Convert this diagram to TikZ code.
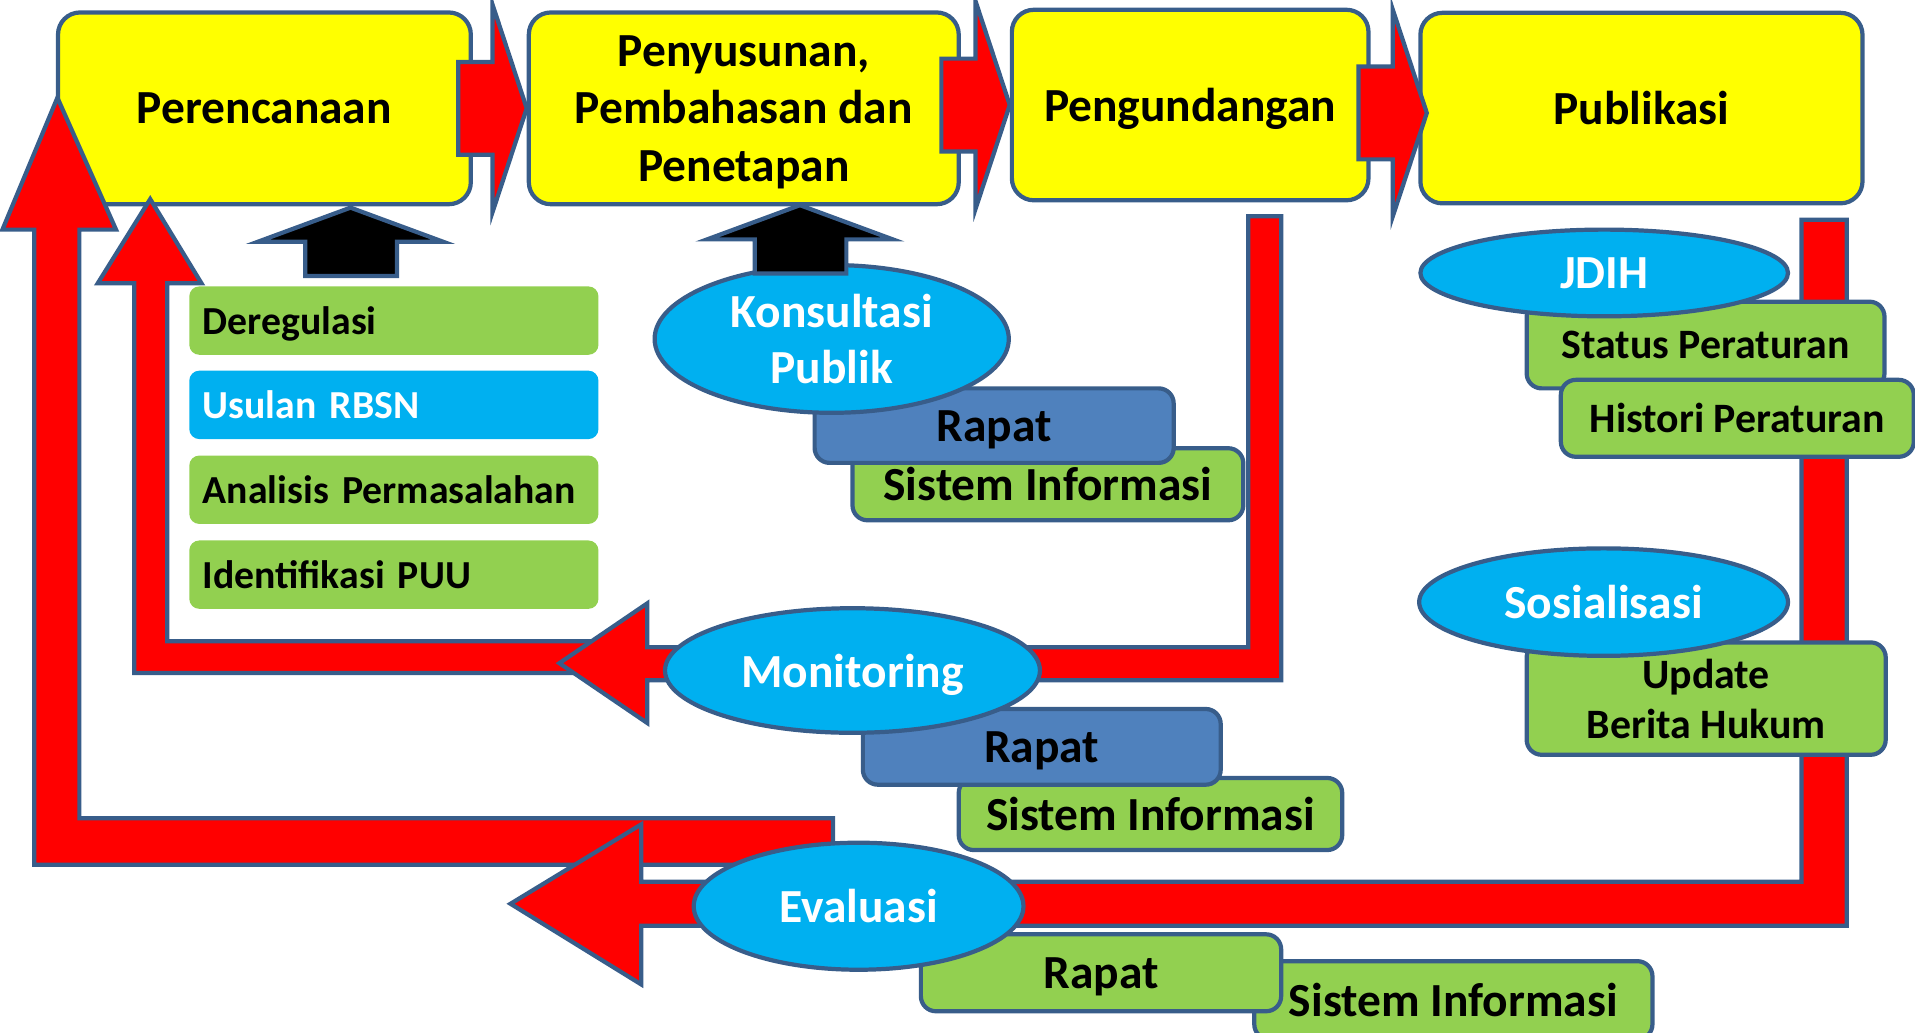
\documentclass[tikz,border=0pt]{standalone}
\usepackage{fontspec}
\setmainfont{Carlito}
\usetikzlibrary{shapes.geometric,calc}

\definecolor{edge}{HTML}{385D8A}
\definecolor{stagefill}{HTML}{FFFF00}
\definecolor{flowred}{HTML}{FF0000}
\definecolor{sky}{HTML}{00B0F0}
\definecolor{leaf}{HTML}{92D050}
\definecolor{steel}{HTML}{4F81BD}

\newcommand\pxu{0.012213cm}

\tikzset{
	sz/.style 2 args={minimum width=#1*\pxu, minimum height=#2*\pxu},
	stage/.style={draw=edge, line width=1.2pt, fill=stagefill, rounded corners=0.22cm, inner sep=0pt, text depth=0pt, align=center, font=\fontsize{13.5}{16.3}\selectfont\bfseries},
	bubble/.style={ellipse, draw=edge, line width=1.2pt, fill=sky, text=white, inner sep=0pt, text depth=0pt, align=center, font=\fontsize{13.5}{16}\selectfont\bfseries},
	tag/.style={draw=edge, line width=1.2pt, fill=leaf, rounded corners=0.15cm, inner sep=0pt, text depth=0pt, align=center, font=\fontsize{13.5}{16}\selectfont\bfseries},
	smalltag/.style={tag, font=\fontsize{11.9}{14.2}\selectfont\bfseries},
	item/.style={fill=leaf, rounded corners=0.1cm, inner xsep=0.134cm, text width=3.82cm, text depth=0pt, align=left, font=\fontsize{11.3}{13.5}\selectfont\bfseries},
	flow/.style={draw=edge, line width=1.2pt, fill=flowred},
	fwd/.pic={\filldraw[flow] (0,0) -- (-28,-85) -- (-28,-38) -- (-56,-38) -- (-56,38) -- (-28,38) -- (-28,85) -- cycle;},
	lift/.pic={\filldraw[draw=edge, line width=1.2pt, fill=black] (0,0) -- (76,28) -- (38,28) -- (38,56) -- (-37,56) -- (-37,28) -- (-76,28) -- cycle;},
}

\begin{document}
\begin{tikzpicture}[x=\pxu, y=-\pxu]
	\useasboundingbox (0,0) rectangle (1568,845);

	\node[stage, sz={338}{157}] (plan) at (216.5,88.7) {Perencanaan};
	\node[stage, sz={352}{157}] (draft) at (609,88.7) {Penyusunan,\\Pembahasan dan\\Penetapan};
	\node[stage, sz={292}{156}] (promul) at (974.5,86) {Pengundangan};
	\node[stage, sz={362}{156}] (pub) at (1344,88.5) {Publikasi};

	\pic at (draft.west) {fwd};
	\pic at (promul.west) {fwd};
	\pic at ($(pub.west)+(7,4)$) {fwd};

	\filldraw[flow] (682,670) -- (65,670) -- (65,188) -- (95,188) -- (47,80) -- (2,188) -- (28,188) -- (28,708) -- (682,708) -- cycle;
	\filldraw[flow] (1475,180) -- (1512,180) -- (1512,758) -- (525,758) -- (525,806) -- (418,740) -- (525,675) -- (525,722) -- (1475,722) -- cycle;
	\filldraw[flow] (495,525) -- (137,525) -- (137,232) -- (165,232) -- (123,163) -- (80,232) -- (110,232) -- (110,551) -- (495,551) -- cycle;
	\filldraw[flow] (1022,177) -- (1049,177) -- (1049,557) -- (530,557) -- (530,592) -- (458,543) -- (530,494) -- (530,530) -- (1022,530) -- cycle;

	\node[item, sz={335}{56}] (dereg) at (322.5,262.5) {Deregulasi};
	\node[item, sz={335}{56}, fill=sky, text=white] (rbsn) at (322.5,331.5) {Usulan RBSN};
	\node[item, sz={335}{56}] (masalah) at (322.5,401) {Analisis Permasalahan};
	\node[item, sz={335}{56}] (puu) at (322.5,470.5) {Identifikasi PUU};
	\pic at (287,170) {lift};

	\node[tag, sz={320}{59}] (konsulsi) at (858,396.5) {Sistem Informasi};
	\node[tag, sz={294}{61}, fill=steel] (konsulrapat) at (814,348.5) {Rapat};
	\node[bubble, sz={290}{121}] (konsul) at (681,277.5) {Konsultasi\\Publik};
	\pic at (655,168) {lift};

	\node[tag, sz={314}{59}] (monitsi) at (942,666.5) {Sistem Informasi};
	\node[tag, sz={293}{62}, fill=steel] (monitrapat) at (853,611.5) {Rapat};
	\node[bubble, sz={307}{102}] (monit) at (698,549) {Monitoring};

	\node[tag, sz={326}{64}] (evalsi) at (1190,819) {Sistem Informasi};
	\node[tag, sz={295}{63}] (evalrapat) at (901.5,796.5) {Rapat};
	\node[bubble, sz={270}{104}] (eval) at (703,742) {Evaluasi};

	\node[smalltag, sz={293}{71}] (status) at (1396.5,282.5) {Status Peraturan};
	\node[smalltag, sz={289}{63}] (histori) at (1422.5,342.5) {Histori Peraturan};
	\node[bubble, sz={301}{71}] (jdih) at (1313.5,223.5) {JDIH};
	\node[smalltag, sz={294}{92}] (berita) at (1397,572) {Update\\Berita Hukum};
	\node[bubble, sz={302}{88}] (sosial) at (1313,493) {Sosialisasi};
\end{tikzpicture}
\end{document}
